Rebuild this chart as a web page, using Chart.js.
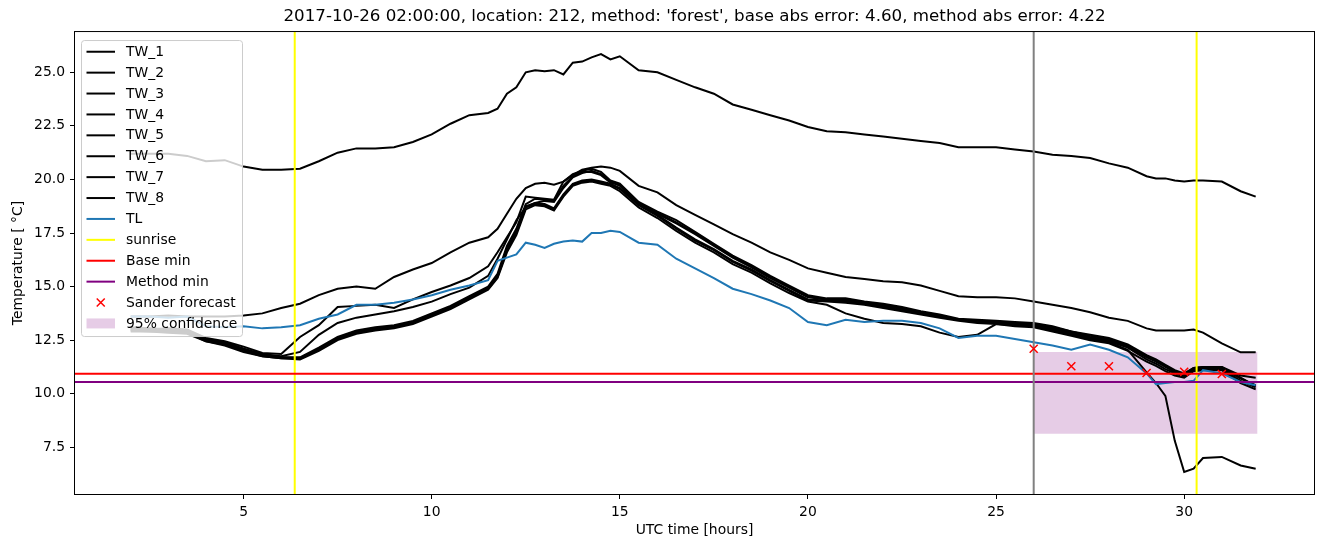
<!DOCTYPE html>
<html>
<head>
<meta charset="utf-8">
<script src="https://cdn.jsdelivr.net/npm/chart.js@4.4.1/dist/chart.umd.min.js"></script>
<style>
  body { margin: 0; background: #fff; }
  canvas { display: block; }
</style>
</head>
<body>
<canvas id="lineChart" width="1324" height="547"></canvas>
<script>
// time axis (hours UTC)
const hours = [2, 2.5, 3, 3.5, 4, 4.5, 5, 5.5, 6, 6.5, 7, 7.5, 8, 8.5, 9, 9.5, 10, 10.5, 11, 11.5,
  11.75, 12, 12.25, 12.5, 12.75, 13, 13.25, 13.5, 13.75, 14, 14.25, 14.5, 14.75, 15,
  15.5, 16, 16.5, 17, 17.5, 18, 18.5, 19, 19.5, 20, 20.5, 21, 21.5, 22, 22.5, 23, 23.5, 24, 24.5, 25, 25.5, 26, 26.5, 27, 27.5, 28, 28.5, 29,
  29.25, 29.5, 29.75, 30, 30.25, 30.5,
  31, 31.5, 31.9];

const tw1 = [21.2, 21.2, 21.2, 21.1, 20.85, 20.9, 20.6, 20.45, 20.45, 20.5, 20.85, 21.25, 21.45, 21.45, 21.5, 21.75, 22.1, 22.6, 23.0, 23.1,
  23.3, 24.0, 24.3, 25.0, 25.1, 25.05, 25.1, 24.9, 25.45, 25.5, 25.7, 25.85, 25.6, 25.75,
  25.1, 25.0, 24.65, 24.3, 24.0, 23.5, 23.25, 23.0, 22.75, 22.45, 22.25, 22.2, 22.1, 22.0, 21.9, 21.8, 21.7, 21.5, 21.5, 21.5, 21.4, 21.3, 21.15, 21.1, 21.0, 20.75, 20.55, 20.15,
  20.05, 20.05, 19.95, 19.9, 19.95, 19.95,
  19.9, 19.45, 19.2];

const tw2 = [13.6, 13.6, 13.65, 13.6, 13.6, 13.6, 13.65, 13.75, 14.0, 14.2, 14.6, 14.9, 15.0, 14.9, 15.45, 15.8, 16.1, 16.6, 17.05, 17.3,
  17.7, 18.4, 19.1, 19.6, 19.8, 19.85, 19.75, 19.9, 20.2, 20.45, 20.55, 20.6, 20.55, 20.4,
  19.7, 19.4, 18.8, 18.35, 17.9, 17.45, 17.05, 16.6, 16.25, 15.85, 15.65, 15.45, 15.35, 15.25, 15.2, 15.05, 14.8, 14.55, 14.5, 14.5, 14.45, 14.3, 14.15, 14.0, 13.8, 13.55, 13.4, 13.05,
  12.95, 12.95, 12.95, 12.95, 13.0, 12.85,
  12.35, 11.93, 11.93];

const tw3 = [13.0, 13.0, 13.05, 13.0, 12.6, 12.45, 12.2, 11.9, 11.85, 12.65, 13.2, 14.05, 14.1, 14.15, 14.0, 14.4, 14.75, 15.05, 15.4, 15.95,
  16.6, 17.3, 18.0, 19.2, 19.15, 19.1, 19.05, 19.9, 20.25, 20.4, 20.5, 20.35, 19.95, 19.8,
  18.95, 18.5, 18.1, 17.55, 17.0, 16.45, 16.0, 15.5, 15.05, 14.6, 14.45, 14.45, 14.3, 14.2, 14.05, 13.85, 13.7, 13.5, 13.45, 13.4, 13.35, 13.3, 13.15, 12.9, 12.75, 12.6, 12.3, 11.8,
  11.6, 11.35, 11.1, 10.95, 11.2, 11.25,
  11.25, 10.85, 10.75];

const tw4 = [13.1, 13.05, 13.0, 12.95, 12.55, 12.4, 12.1, 11.85, 11.75, 11.95, 12.75, 13.3, 13.55, 13.7, 13.85, 14.05, 14.3, 14.65, 14.95, 15.5,
  16.3, 17.2, 18.1, 18.7, 18.9, 19.0, 18.95, 19.6, 20.1, 20.3, 20.4, 20.25, 19.9, 19.7,
  18.85, 18.4, 17.95, 17.45, 16.9, 16.35, 15.9, 15.4, 14.95, 14.5, 14.4, 14.35, 14.25, 14.1, 13.95, 13.8, 13.65, 13.45, 13.4, 13.35, 13.3, 13.25, 13.05, 12.85, 12.65, 12.5, 12.2, 11.7,
  11.5, 11.25, 11.0, 10.85, 11.15, 11.2,
  11.2, 10.7, 10.4];

const tw5 = [13.0, 12.95, 12.95, 12.9, 12.5, 12.35, 12.05, 11.8, 11.7, 11.65, 12.1, 12.6, 12.9, 13.05, 13.15, 13.35, 13.7, 14.05, 14.5, 14.95,
  15.5, 16.8, 17.6, 18.75, 18.9, 18.85, 18.65, 19.3, 19.8, 19.95, 20.0, 19.9, 19.8, 19.6,
  18.85, 18.35, 17.75, 17.2, 16.75, 16.2, 15.8, 15.3, 14.85, 14.4, 14.35, 14.3, 14.2, 14.05, 13.9, 13.75, 13.6, 13.45, 13.35, 13.3, 13.25, 13.2, 13.0, 12.8, 12.6, 12.45, 12.15, 11.6,
  11.4, 11.15, 10.95, 10.8, 11.1, 11.15,
  11.15, 10.6, 10.3];

const tw6 = [12.95, 12.9, 12.9, 12.85, 12.45, 12.3, 12.0, 11.75, 11.65, 11.65, 12.05, 12.55, 12.85, 13.0, 13.1, 13.3, 13.65, 14.0, 14.45, 14.9,
  15.45, 16.7, 17.5, 18.7, 18.85, 18.8, 18.6, 19.25, 19.75, 19.9, 19.95, 19.85, 19.75, 19.55,
  18.8, 18.3, 17.7, 17.15, 16.7, 16.15, 15.75, 15.25, 14.8, 14.35, 14.3, 14.25, 14.15, 14.0, 13.85, 13.7, 13.55, 13.4, 13.3, 13.25, 13.2, 13.15, 12.95, 12.75, 12.55, 12.4, 12.05, 11.0,
  10.5, 9.9, 7.8, 6.35, 6.5, 7.0,
  7.05, 6.65, 6.5];

const tw7 = [12.9, 12.9, 12.85, 12.8, 12.45, 12.25, 11.95, 11.75, 11.65, 11.6, 12.0, 12.5, 12.8, 12.95, 13.05, 13.25, 13.6, 13.95, 14.4, 14.85,
  15.4, 16.6, 17.4, 18.6, 18.8, 18.75, 18.55, 19.2, 19.7, 19.85, 19.9, 19.8, 19.7, 19.45,
  18.7, 18.2, 17.6, 17.05, 16.6, 16.05, 15.65, 15.15, 14.7, 14.3, 14.15, 13.75, 13.5, 13.3, 13.25, 13.15, 12.85, 12.65, 12.75, 13.25, 13.15, 13.1, 12.9, 12.7, 12.5, 12.35, 12.0, 11.5,
  11.3, 11.05, 10.85, 10.75, 11.05, 11.1,
  11.1, 10.5, 10.2];

const tw8 = [13.05, 13.0, 13.0, 12.95, 12.55, 12.4, 12.1, 11.8, 11.7, 11.7, 12.15, 12.65, 12.95, 13.1, 13.2, 13.4, 13.75, 14.1, 14.55, 15.0,
  15.6, 16.9, 17.7, 18.85, 19.1, 19.05, 19.0, 19.7, 20.15, 20.35, 20.35, 20.2, 19.85, 19.75,
  18.9, 18.45, 18.0, 17.5, 16.95, 16.4, 15.95, 15.45, 15.0, 14.55, 14.4, 14.4, 14.25, 14.15, 14.0, 13.8, 13.65, 13.45, 13.4, 13.35, 13.3, 13.25, 13.1, 12.9, 12.7, 12.55, 12.25, 11.75,
  11.55, 11.3, 11.05, 10.9, 11.2, 11.25,
  11.25, 10.75, 10.35];

const tl = [13.6, 13.6, 13.55, 13.6, 13.15, 13.1, 13.15, 13.05, 13.1, 13.2, 13.5, 13.7, 14.15, 14.15, 14.25, 14.4, 14.6, 14.85, 15.05, 15.3,
  16.2, 16.35, 16.5, 17.05, 16.95, 16.8, 17.0, 17.1, 17.15, 17.1, 17.5, 17.5, 17.6, 17.55,
  17.05, 16.95, 16.3, 15.85, 15.4, 14.9, 14.65, 14.35, 14.0, 13.35, 13.2, 13.45, 13.35, 13.4, 13.4, 13.3, 13.05, 12.6, 12.7, 12.7, 12.55, 12.4, 12.25, 12.05, 12.3, 12.05, 11.7, 10.95,
  10.45, 10.5, 10.55, 10.55, 10.6, 11.1,
  10.95, 10.55, 10.4];

const sunriseHours = [6.36, 30.33];
const forecastStart = 26;
const baseMin = 10.93;
const methodMin = 10.55;
const forecastHours = [26, 27, 28, 29, 30, 31];
const forecastValues = [12.1, 11.28, 11.28, 10.97, 11.02, 10.92];
const confStart = 26, confEnd = 31.95;
const confLow = 8.13, confHigh = 11.95;

const xTicks = [5, 10, 15, 20, 25, 30];
const yTicks = [7.5, 10, 12.5, 15, 17.5, 20, 22.5, 25];
const xMin = 0.52, xMax = 33.45;
const yMin = 5.32, yMax = 26.88;

const titleText = "2017-10-26 02:00:00, location: 212, method: 'forest', base abs error: 4.60, method abs error: 4.22";

const FONT = 'DejaVu Sans';
const tws = [tw1, tw2, tw3, tw4, tw5, tw6, tw7, tw8];

function series(ys) {
    return hours.map(function (h, i) { return { x: h, y: ys[i] }; });
}
function vline(x) {
    return [{ x: x, y: yMin }, { x: x, y: yMax }];
}
function hline(y) {
    return [{ x: xMin, y: y }, { x: xMax, y: y }];
}

var datasets = [];
// top-most first (lower order = drawn later)
datasets.push({ label: 'Sander forecast', data: forecastHours.map(function (h, i) { return { x: h, y: forecastValues[i] }; }),
    showLine: false, pointStyle: 'crossRot', pointRadius: 5.7, pointHoverRadius: 5.7, borderColor: 'red', backgroundColor: 'red', borderWidth: 1.5, order: 0 });
datasets.push({ label: '_fc', data: vline(forecastStart), borderColor: 'grey', borderWidth: 2, pointRadius: 0, order: 1 });
datasets.push({ label: 'Method min', data: hline(methodMin), borderColor: 'purple', borderWidth: 2, pointRadius: 0, order: 2 });
datasets.push({ label: 'Base min', data: hline(baseMin), borderColor: 'red', borderWidth: 2, pointRadius: 0, order: 3 });
sunriseHours.forEach(function (s, i) {
    datasets.push({ label: 'sunrise', data: vline(s), borderColor: 'yellow', borderWidth: 2, pointRadius: 0, order: 4 });
});
datasets.push({ label: 'TL', data: series(tl), borderColor: '#1f77b4', borderWidth: 2, pointRadius: 0, order: 5 });
tws.forEach(function (t, i) {
    datasets.push({ label: 'TW_' + (i + 1), data: series(t), borderColor: 'black', borderWidth: 2, pointRadius: 0, order: 13 - i });
});
datasets.push({ label: '95% confidence', data: [{ x: confStart, y: confHigh }, { x: confEnd, y: confHigh }],
    borderWidth: 0, borderColor: 'rgba(0,0,0,0)', pointRadius: 0, backgroundColor: 'rgba(128,0,128,0.2)', fill: { value: confLow }, order: 20 });

// legend entries in matplotlib order
var legendItems = [];
for (var i = 1; i <= 8; i++) legendItems.push({ text: 'TW_' + i, kind: 'line', color: 'black' });
legendItems.push({ text: 'TL', kind: 'line', color: '#1f77b4' });
legendItems.push({ text: 'sunrise', kind: 'line', color: 'yellow' });
legendItems.push({ text: 'Base min', kind: 'line', color: 'red' });
legendItems.push({ text: 'Method min', kind: 'line', color: 'purple' });
legendItems.push({ text: 'Sander forecast', kind: 'marker', color: 'red' });
legendItems.push({ text: '95% confidence', kind: 'patch', color: 'rgba(128,0,128,0.2)' });

var frameAndLegend = {
    id: 'frameAndLegend',
    afterDatasetsDraw: function (chart) {
        var ctx = chart.ctx, a = chart.chartArea;
        ctx.save();
        ctx.strokeStyle = '#000';
        ctx.lineWidth = 1;
        ctx.strokeRect(a.left - 0.5, a.top - 0.5, a.right - a.left + 1, a.bottom - a.top + 1);
        ctx.restore();
    },
    afterDraw: function (chart) {
        var ctx = chart.ctx, a = chart.chartArea;
        var bx = a.left + 6.5, by = a.top + 8.5, bw = 161, bh = 296, r = 3;
        ctx.save();
        ctx.beginPath();
        ctx.moveTo(bx + r, by);
        ctx.lineTo(bx + bw - r, by);
        ctx.quadraticCurveTo(bx + bw, by, bx + bw, by + r);
        ctx.lineTo(bx + bw, by + bh - r);
        ctx.quadraticCurveTo(bx + bw, by + bh, bx + bw - r, by + bh);
        ctx.lineTo(bx + r, by + bh);
        ctx.quadraticCurveTo(bx, by + bh, bx, by + bh - r);
        ctx.lineTo(bx, by + r);
        ctx.quadraticCurveTo(bx, by, bx + r, by);
        ctx.closePath();
        ctx.fillStyle = 'rgba(255,255,255,0.8)';
        ctx.fill();
        ctx.strokeStyle = '#cccccc';
        ctx.lineWidth = 1;
        ctx.stroke();

        ctx.font = '13.9px "' + FONT + '"';
        ctx.textBaseline = 'middle';
        ctx.textAlign = 'left';
        var hx0 = a.left + 11.5, hx1 = a.left + 40;
        legendItems.forEach(function (it, i) {
            var y = a.top + 19.7 + i * 20.9;
            if (it.kind === 'line') {
                ctx.strokeStyle = it.color;
                ctx.lineWidth = 2;
                ctx.beginPath();
                ctx.moveTo(hx0, y);
                ctx.lineTo(hx1, y);
                ctx.stroke();
            } else if (it.kind === 'marker') {
                var cx = (hx0 + hx1) / 2, d = 4;
                ctx.strokeStyle = it.color;
                ctx.lineWidth = 1.5;
                ctx.beginPath();
                ctx.moveTo(cx - d, y - d); ctx.lineTo(cx + d, y + d);
                ctx.moveTo(cx - d, y + d); ctx.lineTo(cx + d, y - d);
                ctx.stroke();
            } else {
                ctx.fillStyle = it.color;
                ctx.fillRect(hx0, y - 5, hx1 - hx0, 10);
            }
            ctx.fillStyle = '#000';
            ctx.fillText(it.text, a.left + 51, y + 0.5);
        });
        ctx.restore();
    }
};

var ctx2 = document.getElementById('lineChart').getContext('2d');
new Chart(ctx2, {
    type: 'line',
    data: { datasets: datasets },
    plugins: [frameAndLegend],
    options: {
        responsive: false,
        animation: false,
        events: [],
        layout: { padding: { left: 0, right: 10, top: 0, bottom: 0 } },
        plugins: {
            legend: { display: false },
            tooltip: { enabled: false },
            title: {
                display: true,
                text: titleText,
                fullSize: false,
                color: '#000',
                font: { family: FONT, size: 16.7, weight: 'normal' },
                padding: { top: 7, bottom: 5 }
            }
        },
        scales: {
            x: {
                type: 'linear',
                min: xMin,
                max: xMax,
                afterBuildTicks: function (scale) { scale.ticks = xTicks.map(function (v) { return { value: v }; }); },
                afterFit: function (scale) { scale.height = 53; },
                grid: { display: true, drawOnChartArea: false, drawTicks: true, tickLength: 5, color: '#000', lineWidth: 1 },
                border: { display: false },
                ticks: { color: '#000', padding: 5, maxRotation: 0, font: { family: FONT, size: 13.9 }, callback: function (v) { return String(v); } },
                title: { display: true, text: 'UTC time [hours]', color: '#000', font: { family: FONT, size: 13.9 }, padding: { top: 4, bottom: 8 } }
            },
            y: {
                type: 'linear',
                min: yMin,
                max: yMax,
                afterBuildTicks: function (scale) { scale.ticks = yTicks.map(function (v) { return { value: v }; }); },
                afterFit: function (scale) { scale.width = 75; },
                grid: { display: true, drawOnChartArea: false, drawTicks: true, tickLength: 5, color: '#000', lineWidth: 1 },
                border: { display: false },
                ticks: { color: '#000', padding: 5, font: { family: FONT, size: 13.9 }, callback: function (v) { return v.toFixed(1); } },
                title: { display: true, text: 'Temperature [ °C]', color: '#000', font: { family: FONT, size: 13.9 }, padding: { top: 10, bottom: 4 } }
            }
        }
    }
});
</script>
</body>
</html>
